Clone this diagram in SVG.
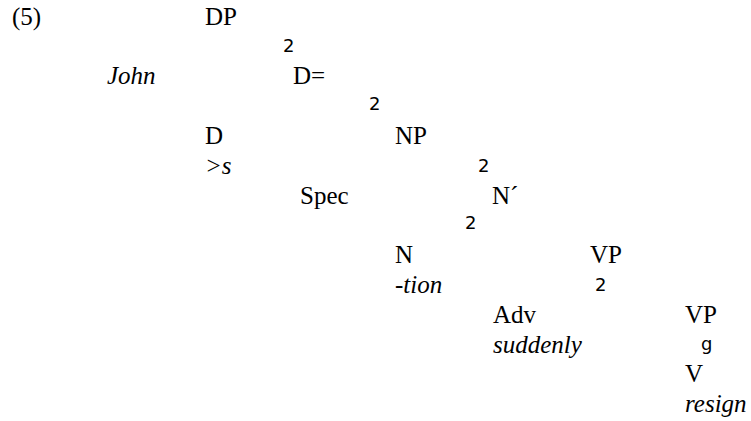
<svg xmlns="http://www.w3.org/2000/svg" width="751" height="421" viewBox="0 0 751 421">
<style>
  text { fill: #000; }
  .t { font-family: "Liberation Serif", "Times New Roman", serif; font-size: 25px; }
  .i { font-family: "Liberation Serif", "Times New Roman", serif; font-size: 25px; font-style: italic; }
  .b { font-family: "DejaVu Sans", "Liberation Sans", sans-serif; font-size: 18px; }
</style>
<rect width="751" height="421" fill="#fff"/>
<g id="label"><text class="t" x="12" y="25">(5)</text></g>
<g id="connectors">
  <text class="b" x="283" y="52">2</text>
  <text class="b" x="369" y="110">2</text>
  <text class="b" x="478" y="172">2</text>
  <text class="b" x="465" y="229">2</text>
  <text class="b" x="595" y="291">2</text>
  <text class="b" x="701" y="350">g</text>
</g>
<g id="n-DP"><text class="t" x="205" y="25">DP</text></g>
<g id="n-John"><text class="i" x="107" y="84">John</text></g>
<g id="n-Dbar"><text class="t" x="293" y="84">D=</text></g>
<g id="n-D"><text class="t" x="205" y="144">D</text><text class="i" x="205" y="174">&gt;s</text></g>
<g id="n-NP"><text class="t" x="395" y="144">NP</text></g>
<g id="n-Spec"><text class="t" x="300" y="204">Spec</text></g>
<g id="n-Nbar"><text class="t" x="492" y="204">N´</text></g>
<g id="n-N"><text class="t" x="395" y="263">N</text><text class="i" x="395" y="293">-tion</text></g>
<g id="n-VP1"><text class="t" x="590" y="263">VP</text></g>
<g id="n-Adv"><text class="t" x="493" y="323">Adv</text><text class="i" x="493" y="353">suddenly</text></g>
<g id="n-VP2"><text class="t" x="685" y="323">VP</text></g>
<g id="n-V"><text class="t" x="685" y="382">V</text><text class="i" x="685" y="412">resign</text></g>
</svg>
